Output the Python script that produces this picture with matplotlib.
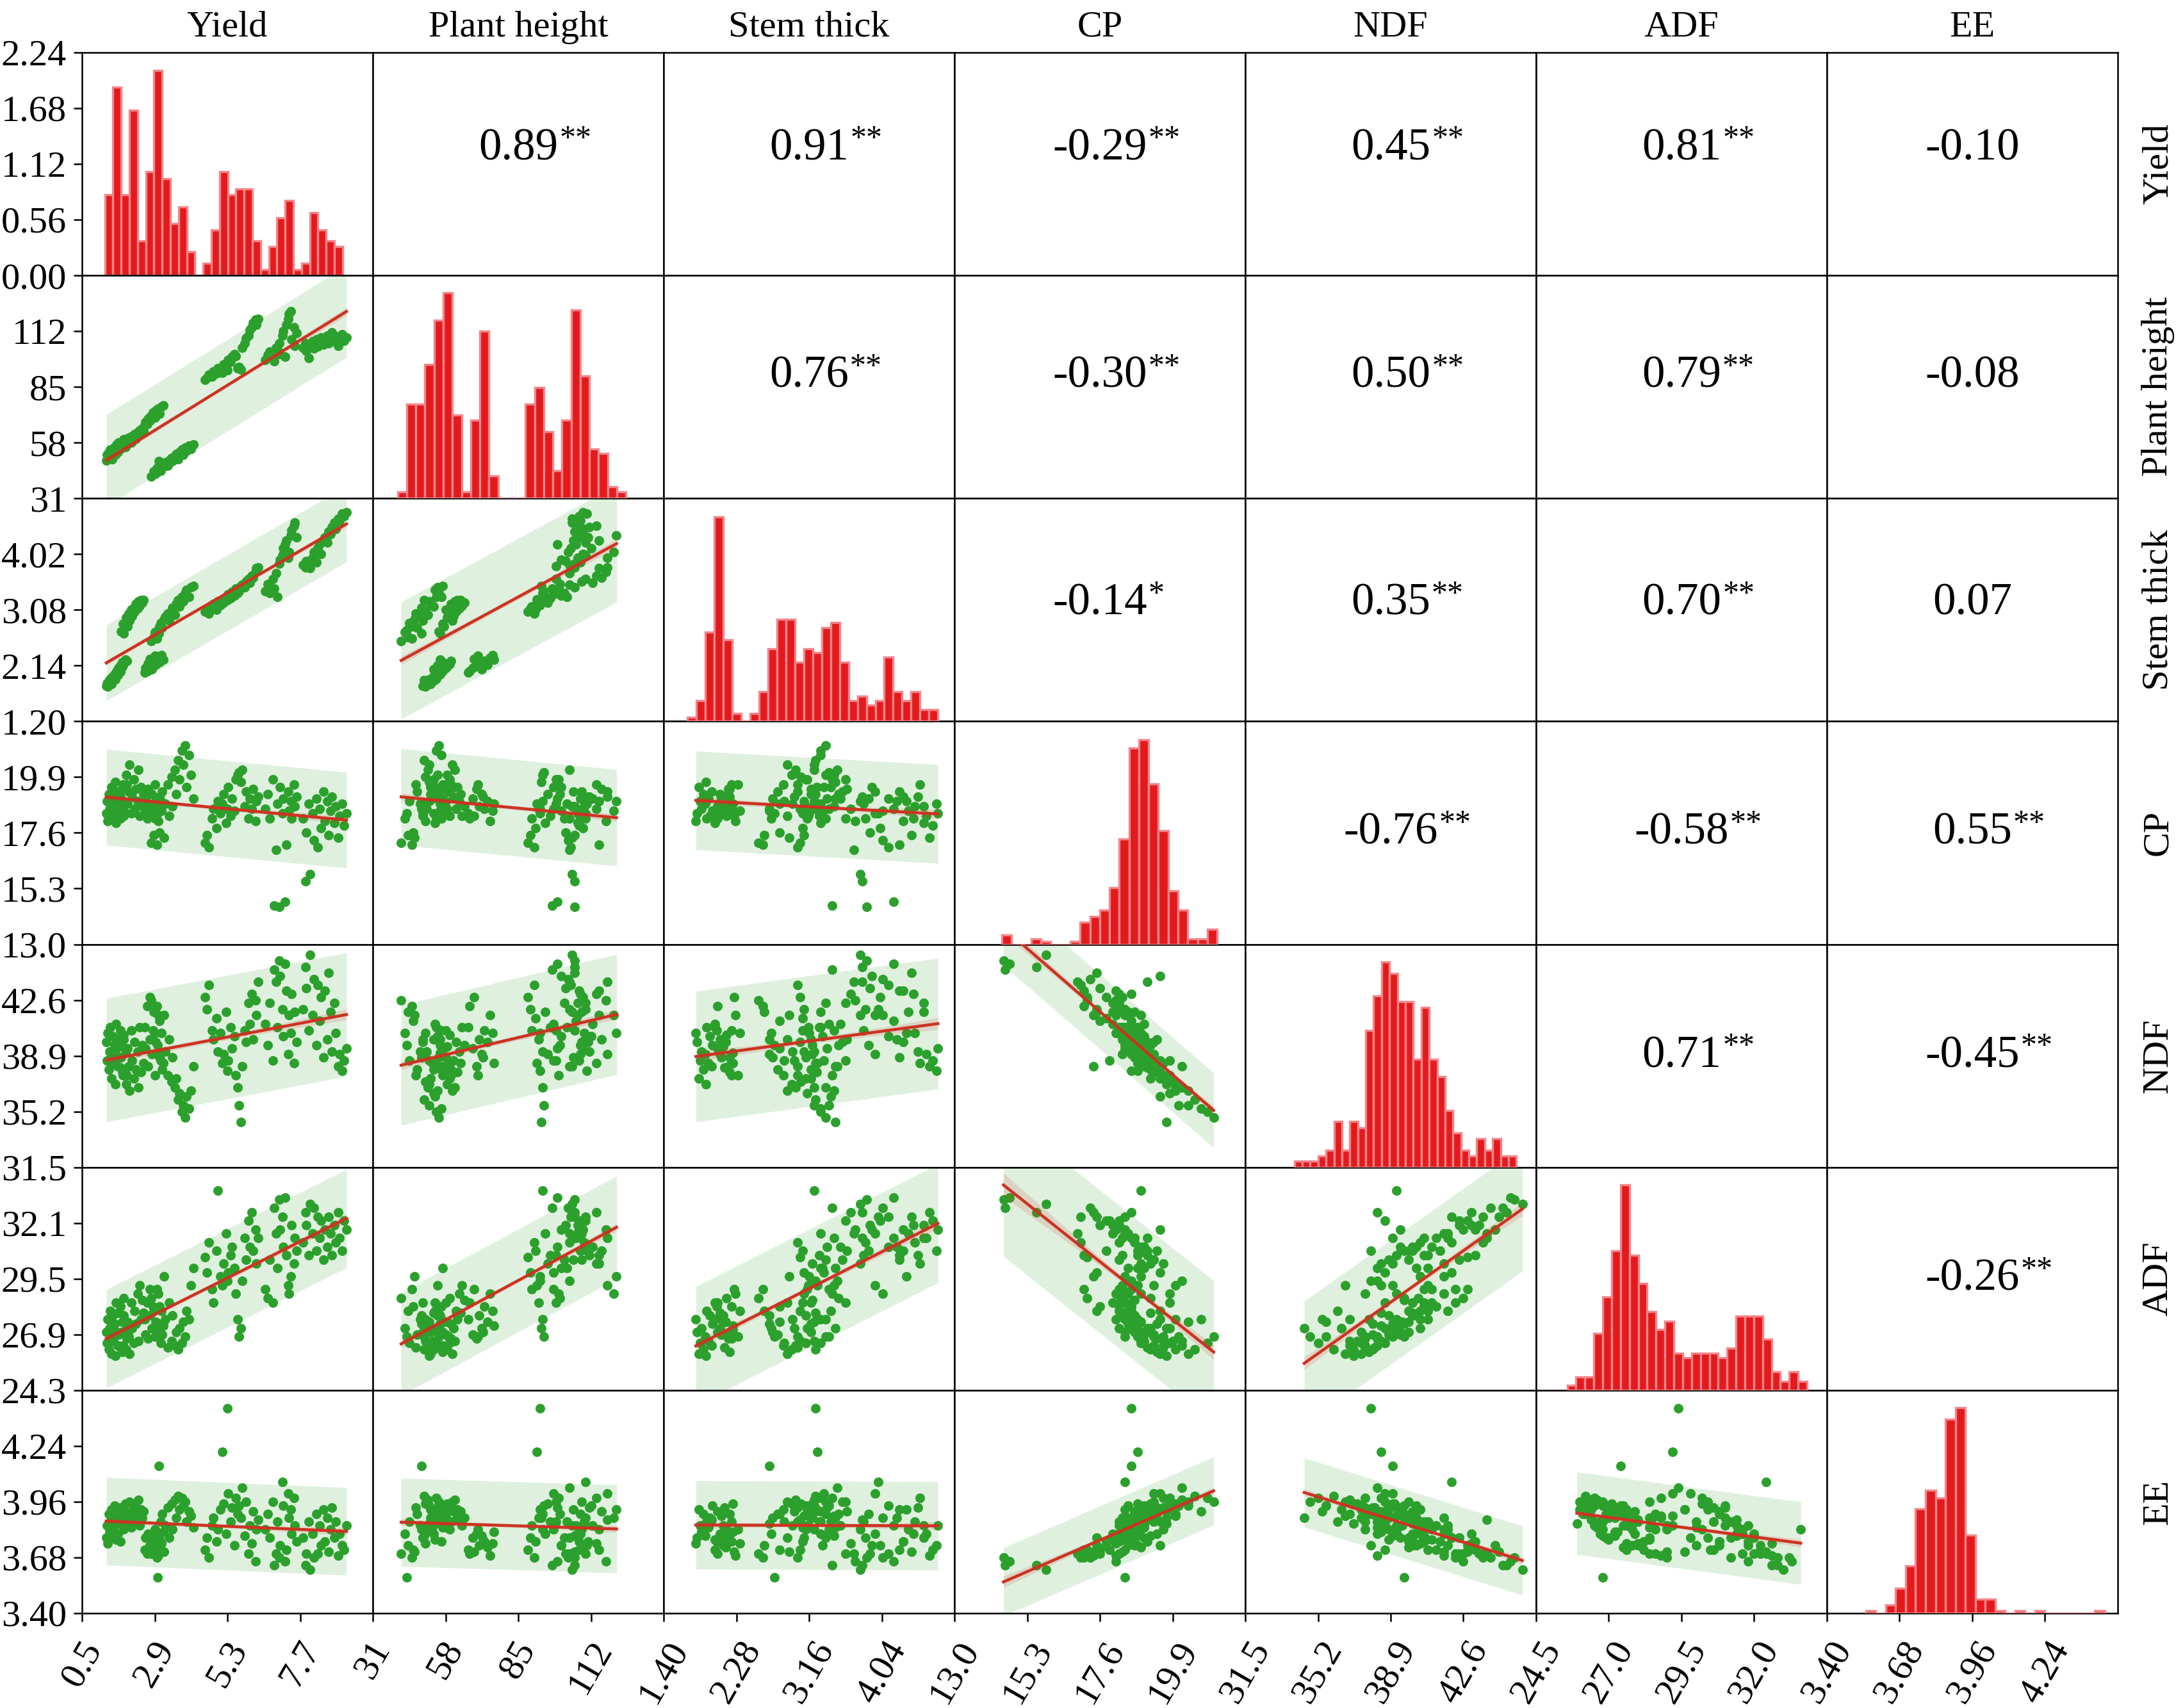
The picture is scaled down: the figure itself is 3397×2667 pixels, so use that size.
import numpy as np
import matplotlib
matplotlib.use("Agg")
import matplotlib.pyplot as plt
from matplotlib.ticker import FormatStrFormatter

plt.rcParams['font.family'] = ['Liberation Serif', 'DejaVu Serif']

names = ["Yield", "Plant height", "Stem thick", "CP", "NDF", "ADF", "EE"]

# samples, read group by group off the scatter panels
yield_vals = [
    1.30, 1.33, 1.34, 1.39, 1.41, 1.42, 1.47, 1.49, 1.52, 1.53, 1.57, 1.60, 1.61, 1.64, 1.68, 1.69, 1.71, 1.76, 1.77, 1.83, 1.84, 1.88, 1.94, 1.97,
    1.79, 1.86, 1.88, 1.96, 1.99, 2.05, 2.07, 2.13, 2.15, 2.21, 2.23, 2.27, 2.33, 2.35, 2.41, 2.44, 2.49, 2.53,
    2.57, 2.59, 2.65, 2.67, 2.73, 2.75, 2.81, 2.84, 2.91, 2.94, 3.01, 3.05, 3.13, 3.19,
    2.79, 2.87, 2.91, 2.97, 3.00, 3.03, 3.05, 3.11, 3.14, 3.21, 3.25, 3.33, 3.37, 3.45, 3.49, 3.57, 3.61, 3.67, 3.71, 3.79, 3.83, 3.91, 3.95, 4.03, 4.09, 4.17,
    4.55, 4.63, 4.69, 4.79, 4.84, 4.93, 4.99, 5.07, 5.13, 5.17, 5.25, 5.29, 5.33, 5.41, 5.45, 5.53, 5.57, 5.63, 5.67, 5.75, 5.79, 5.87, 5.91, 5.99, 6.03, 6.11, 6.15, 6.23, 6.26, 6.31,
    6.54, 6.63, 6.69, 6.79, 6.84, 6.91, 6.94, 7.01, 7.04, 7.11, 7.14, 7.21, 7.24, 7.31, 7.33, 7.39, 7.41, 7.49, 7.51, 7.59,
    7.79, 7.87, 7.91, 7.99, 8.03, 8.11, 8.15, 8.23, 8.27, 8.35, 8.39, 8.47, 8.51, 8.59, 8.63, 8.71, 8.75, 8.83, 8.87, 8.95, 8.99, 9.09, 9.15, 9.23,
]
height_vals = [
    49.5, 52.0, 50.5, 53.5, 51.0, 54.5, 52.5, 50.0, 55.0, 53.0, 56.0, 52.0, 54.0, 57.0, 55.5, 53.5, 58.0, 56.5, 55.0, 58.5, 57.0, 59.5, 56.0, 60.0,
    55.5, 57.0, 56.0, 58.5, 57.5, 59.0, 60.5, 58.0, 61.0, 59.5, 62.0, 60.0, 63.0, 61.5, 64.0, 62.5, 65.0, 63.5,
    66.5, 68.0, 67.0, 69.5, 70.5, 68.5, 71.5, 72.5, 70.0, 73.5, 74.5, 72.0, 75.5, 76.0,
    41.5, 44.0, 43.0, 45.5, 43.7, 49.0, 46.0, 44.5, 47.5, 46.5, 48.5, 47.0, 49.5, 50.5, 49.0, 51.5, 52.5, 50.0, 53.5, 54.5, 52.0, 55.5, 54.0, 56.5, 55.0, 57.0,
    88.5, 89.5, 91.0, 90.0, 92.5, 91.5, 94.0, 93.0, 92.0, 96.0, 95.0, 93.0, 98.0, 97.0, 99.5, 101.0, 100.0, 94.0, 94.5, 93.5, 104.0, 106.0, 108.5, 110.0, 112.5, 114.0, 116.0, 117.5, 115.0, 118.0,
    98.0, 100.5, 102.0, 99.0, 97.5, 104.0, 103.0, 106.0, 101.0, 110.0, 112.0, 99.5, 115.0, 118.0, 120.5, 121.5, 108.0, 114.0, 105.0, 111.0,
    104.0, 106.0, 102.5, 99.0, 105.0, 107.0, 103.5, 108.0, 104.5, 106.5, 109.0, 105.5, 107.5, 110.0, 106.0, 108.5, 111.5, 107.0, 109.5, 105.0, 108.0, 110.5, 107.5, 109.0,
]
stem_vals = [
    1.80, 1.84, 1.79, 1.88, 1.86, 1.92, 1.83, 1.90, 1.96, 1.94, 1.99, 1.91, 2.02, 2.05, 1.98, 2.08, 2.10, 2.04, 2.14, 2.12, 2.20, 2.16, 2.24, 2.22,
    2.72, 2.85, 2.68, 2.95, 2.80, 3.02, 2.90, 3.08, 2.98, 3.12, 3.05, 3.18, 3.10, 3.22, 3.15, 3.25, 3.20, 3.24,
    2.02, 2.10, 2.05, 2.18, 2.12, 2.25, 2.08, 2.22, 2.30, 2.15, 2.27, 2.20, 2.32, 2.24,
    2.55, 2.62, 2.70, 2.60, 2.74, 2.68, 2.80, 2.86, 2.78, 2.92, 2.96, 3.02, 2.90, 3.06, 3.12, 3.00, 3.18, 3.24, 3.14, 3.30, 3.22, 3.36, 3.42, 3.30, 3.46, 3.48,
    3.05, 3.10, 3.02, 3.14, 3.18, 3.08, 3.22, 3.16, 3.26, 3.20, 3.30, 3.24, 3.34, 3.28, 3.38, 3.32, 3.44, 3.36, 3.40, 3.48, 3.50, 3.46, 3.56, 3.60, 3.54, 3.66, 3.62, 3.72, 3.78, 3.80,
    3.40, 3.52, 3.36, 3.60, 3.44, 3.70, 3.30, 3.86, 3.92, 4.00, 4.12, 4.18, 4.25, 3.96, 4.05, 4.34, 4.42, 4.50, 4.55, 4.30,
    3.84, 3.80, 3.90, 3.82, 3.78, 3.96, 4.05, 3.88, 4.12, 4.18, 4.02, 4.25, 4.30, 4.22, 4.40, 4.36, 4.48, 4.55, 4.44, 4.62, 4.58, 4.70, 4.66, 4.72,
]
cp_vals = [
    18.4, 18.9, 18.1, 19.2, 18.6, 18.2, 19.5, 18.8, 18.3, 19.0, 18.5, 19.7, 18.0, 18.7, 19.3, 18.4, 18.9, 18.2, 19.1, 18.6, 19.4, 18.3, 18.8, 19.6,
    19.0, 19.6, 18.5, 20.0, 18.8, 19.3, 20.4, 18.4, 19.1, 19.8, 18.6, 19.4, 18.9, 20.2, 18.3, 19.5, 18.7, 19.2,
    18.4, 19.0, 18.2, 19.4, 18.7, 18.3, 19.2, 18.6, 19.6, 18.9, 18.1, 19.1, 18.5, 18.8,
    17.2, 17.5, 18.2, 17.1, 18.4, 18.6, 17.6, 18.9, 19.3, 17.4, 18.8, 19.6, 18.3, 19.9, 18.7, 20.2, 19.2, 20.6, 19.8, 21.0, 20.4, 21.2, 19.5, 20.8, 20.0, 19.0,
    17.2, 17.5, 17.0, 18.2, 18.6, 17.8, 18.9, 18.4, 18.8, 19.2, 18.0, 18.6, 19.5, 18.3, 19.0, 18.5, 19.8, 20.0, 20.1, 19.7, 20.2, 18.7, 19.3, 18.2, 19.0, 18.6, 19.4, 18.1, 18.9, 19.1,
    18.6, 19.2, 18.2, 19.8, 14.6, 16.9, 18.8, 14.55, 19.5, 18.4, 19.0, 14.75, 17.1, 19.3, 18.5, 18.9, 18.2, 19.6, 18.7, 19.1,
    18.2, 15.6, 17.6, 18.8, 15.9, 18.4, 17.3, 19.0, 17.0, 18.6, 17.8, 19.3, 18.1, 18.9, 17.5, 18.5, 19.1, 18.0, 18.7, 17.4, 18.3, 18.8, 17.9, 18.4,
]
ndf_vals = [
    39.8, 38.6, 40.4, 38.0, 39.2, 40.8, 37.4, 39.0, 40.2, 38.4, 39.6, 37.0, 41.0, 39.4, 38.2, 40.0, 38.8, 40.6, 38.1, 39.5, 37.8, 40.3, 39.1, 37.6,
    38.8, 37.6, 40.0, 37.0, 39.4, 38.2, 36.6, 40.6, 38.6, 37.4, 39.8, 38.0, 39.2, 36.8, 40.8, 37.8, 39.6, 38.4,
    40.8, 39.4, 42.2, 38.2, 40.0, 42.8, 39.0, 40.6, 37.6, 39.8, 41.6, 38.8, 40.4, 38.4,
    42.6, 41.8, 40.4, 42.2, 39.6, 39.0, 41.2, 38.6, 38.0, 41.6, 39.2, 37.6, 40.0, 37.2, 38.8, 36.8, 37.4, 36.0, 36.4, 35.2, 35.6, 34.8, 36.2, 35.4, 36.6, 38.2,
    42.8, 42.0, 43.6, 40.6, 40.0, 41.4, 39.2, 40.4, 38.4, 39.0, 41.8, 37.9, 38.6, 40.8, 39.4, 40.2, 37.6, 36.8, 35.6, 34.5, 38.2, 40.6, 39.8, 42.4, 41.0, 43.0, 40.0, 42.6, 41.6, 43.8,
    41.0, 39.6, 42.4, 38.6, 44.6, 43.8, 40.8, 45.2, 44.2, 42.0, 40.2, 45.0, 43.2, 39.0, 41.6, 40.4, 43.0, 38.4, 41.8, 39.8,
    42.0, 44.8, 43.4, 40.6, 45.6, 41.6, 44.0, 39.6, 43.6, 41.2, 42.8, 38.8, 43.2, 40.0, 44.4, 41.8, 39.2, 42.4, 40.4, 38.2, 39.0, 37.9, 38.6, 39.4,
]
adf_vals = [
    27.0, 26.5, 27.6, 26.2, 27.2, 28.0, 26.0, 26.8, 27.8, 26.6, 27.4, 25.9, 28.4, 27.0, 26.4, 27.9, 26.9, 28.2, 26.3, 27.5, 26.1, 28.6, 27.1, 26.7,
    27.0, 26.4, 27.8, 26.2, 27.5, 26.8, 26.0, 28.4, 27.2, 26.5, 28.0, 27.4, 28.8, 26.6, 29.2, 27.6, 28.5, 27.9,
    27.6, 26.9, 28.4, 26.7, 27.8, 29.0, 27.2, 28.2, 26.8, 27.5, 28.8, 27.0, 28.0, 27.3,
    28.6, 28.0, 27.2, 29.0, 26.8, 27.4, 28.2, 26.5, 26.9, 29.6, 27.6, 26.3, 28.4, 26.6, 27.8, 26.4, 27.0, 26.2, 27.2, 26.5, 27.5, 26.8, 28.0, 27.6, 29.2, 30.0,
    30.5, 29.8, 31.2, 29.0, 28.4, 30.8, 33.6, 29.6, 29.2, 30.2, 31.6, 29.4, 29.8, 30.6, 31.0, 30.0, 28.8, 27.6, 26.8, 27.2, 29.4, 31.4, 30.4, 32.2, 31.0, 32.6, 30.8, 31.8, 30.2, 31.4,
    29.0, 28.6, 30.4, 28.4, 32.8, 31.6, 30.0, 33.2, 31.8, 32.4, 31.0, 33.3, 30.6, 29.2, 28.8, 29.6, 32.0, 30.2, 31.4, 30.8,
    31.2, 32.6, 32.0, 30.6, 33.0, 31.6, 32.8, 30.8, 32.4, 31.4, 32.2, 30.4, 31.8, 31.0, 32.4, 31.6, 30.6, 32.0, 31.2, 32.6, 31.4, 30.8, 32.2, 31.8,
]
ee_vals = [
    3.78, 3.84, 3.75, 3.90, 3.81, 3.86, 3.92, 3.79, 3.88, 3.83, 3.94, 3.85, 3.77, 3.91, 3.87, 3.80, 3.89, 3.76, 3.93, 3.84, 3.90, 3.82, 3.95, 3.86,
    3.88, 3.92, 3.85, 3.95, 3.90, 3.86, 3.96, 3.83, 3.91, 3.94, 3.87, 3.93, 3.89, 3.97, 3.84, 3.92, 3.88, 3.91,
    3.72, 3.78, 3.70, 3.80, 3.74, 3.71, 3.79, 3.76, 3.82, 3.73, 3.69, 3.77, 3.75, 3.81,
    3.70, 3.74, 3.80, 3.68, 3.58, 4.14, 3.72, 3.86, 3.90, 3.71, 3.84, 3.93, 3.78, 3.95, 3.82, 3.97, 3.88, 3.99, 3.92, 3.98, 3.94, 3.96, 3.86, 3.91, 3.89, 3.83,
    3.72, 3.78, 3.68, 3.84, 3.88, 3.76, 3.82, 3.92, 4.21, 3.95, 3.80, 4.43, 4.00, 3.86, 3.93, 3.74, 3.98, 3.90, 3.94, 3.88, 4.03, 3.79, 3.96, 3.70, 3.84, 3.75, 3.91, 3.66, 3.82, 3.87,
    3.82, 3.90, 3.78, 3.96, 3.64, 3.70, 3.86, 3.68, 3.74, 4.06, 3.94, 3.66, 3.72, 4.00, 3.88, 3.92, 3.80, 3.98, 3.84, 3.76,
    3.78, 3.64, 3.70, 3.86, 3.62, 3.80, 3.68, 3.90, 3.70, 3.84, 3.74, 3.92, 3.76, 3.88, 3.71, 3.82, 3.93, 3.78, 3.86, 3.69, 3.80, 3.74, 3.72, 3.84,
]

# diagonal histograms: bar heights
# (Yield in its own axis units, the others in % of the cell height)
yield_hist = [0.81, 1.89, 0.81, 1.66, 0.35, 1.04, 2.06, 0.97, 0.52, 0.69, 0.24, 0.0, 0.12, 0.46, 1.04,
              0.81, 0.87, 0.87, 0.35, 0.06, 0.29, 0.58, 0.75, 0.06, 0.12, 0.63, 0.46, 0.35, 0.29]
height_hist = [2.8, 42.4, 42.4, 60.0, 79.8, 92.2, 37.4, 2.8, 35.0, 74.9, 10.1, 0, 0, 0,
               42.4, 49.7, 30.0, 12.5, 35.0, 84.6, 54.8, 22.3, 20.1, 5.1, 2.8]
stem_hist = [1.9, 9.3, 40.0, 91.8, 36.5, 3.5, 0, 3.5, 13.2, 32.6, 45.8, 45.8, 26.4, 32.6,
             30.7, 41.9, 44.3, 26.4, 9.3, 11.3, 7.4, 9.3, 28.7, 13.2, 9.3, 13.2, 5.4, 5.4]
cp_hist = [4.1, 0, 0, 2.5, 1.4, 0, 0, 1.4, 9.9, 12.6, 15.3, 25.4, 47.2, 88.0, 91.8, 72.0,
           51.1, 23.9, 15.3, 2.5, 2.5, 6.8]
ndf_hist = [2.8, 2.8, 2.8, 5.0, 7.8, 20.6, 7.8, 20.6, 17.8, 61.3, 76.8, 92.0, 86.8, 74.2,
            74.2, 48.5, 71.8, 48.5, 40.8, 25.4, 15.5, 7.8, 5.0, 12.8, 7.8, 12.8, 5.0, 5.0]
adf_hist = [2.2, 5.9, 5.9, 25.4, 41.9, 62.7, 92.1, 60.5, 48.0, 35.4, 27.1, 31.0, 16.5, 14.5,
            16.5, 16.5, 16.5, 14.5, 18.8, 33.3, 33.3, 33.3, 22.9, 8.2, 4.0, 8.2, 4.0]
ee_hist = [1.2, 0, 3.7, 11.2, 21.3, 46.7, 55.2, 51.7, 87.1, 92.2, 35.1, 6.2, 6.2, 1.2, 0,
           1.2, 0, 1.2, 0, 0, 0, 0, 0, 1.2]
hist_lo = [1.25, 40.2, 1.69, 14.50, 34.0, 25.57, 3.55]
hist_hi = [9.10, 125.0, 4.72, 21.31, 45.3, 33.82, 4.47]

# axis scales: first tick and tick step (each cell spans four steps)
x_start = [0.5, 31, 1.40, 13.0, 31.5, 24.5, 3.40]
x_step = [2.4, 27, 0.88, 2.3, 3.7, 2.5, 0.28]
x_fmt = ['%.1f', '%.0f', '%.2f', '%.1f', '%.1f', '%.1f', '%.2f']
y_start = [0.0, 31, 1.20, 13.0, 31.5, 24.3, 3.40]
y_step = [0.56, 27, 0.94, 2.3, 3.7, 2.6, 0.28]
y_fmt = ['%.2f', '%.0f', '%.2f', '%.1f', '%.1f', '%.1f', '%.2f']

# upper triangle, row by row
corr_r = ["0.89", "0.91", "-0.29", "0.45", "0.81", "-0.10",
          "0.76", "-0.30", "0.50", "0.79", "-0.08",
          "-0.14", "0.35", "0.70", "0.07",
          "-0.76", "-0.58", "0.55",
          "0.71", "-0.45",
          "-0.26"]
corr_sig = ["**", "**", "**", "**", "**", "",
            "**", "**", "**", "**", "",
            "*", "**", "**", "",
            "**", "**", "**",
            "**", "**",
            "**"]

data = [np.array(v, dtype=float) for v in
        (yield_vals, height_vals, stem_vals, cp_vals, ndf_vals, adf_vals, ee_vals)]
hists = [yield_hist, height_hist, stem_hist, cp_hist, ndf_hist, adf_hist, ee_hist]

green = '#2ca02c'
line_red = '#cc3322'
bar_red = '#e31a1c'
bar_edge = '#f2858a'
n_var = len(names)

fig, axes = plt.subplots(n_var, n_var, figsize=(3397 / 300, 2667 / 300), dpi=300)
fig.subplots_adjust(left=0.0377, right=0.9732, top=0.9693, bottom=0.0555, wspace=0, hspace=0)


def draw_reg(ax, x, y):
    slope, icpt = np.polyfit(x, y, 1)
    n = len(x)
    resid = y - (icpt + slope * x)
    s = np.sqrt(np.sum(resid ** 2) / (n - 2))
    xs = np.linspace(x.min(), x.max(), 60)
    fit = icpt + slope * xs
    ax.fill_between(xs, fit - 1.96 * s, fit + 1.96 * s, color=green, alpha=0.15, lw=0, zorder=1)
    ax.scatter(x, y, s=13, color=green, lw=0, zorder=2)
    se = s * np.sqrt(1.0 / n + (xs - x.mean()) ** 2 / np.sum((x - x.mean()) ** 2))
    ax.fill_between(xs, fit - 1.0 * se, fit + 1.0 * se, color=line_red, alpha=0.15, lw=0, zorder=3)
    ax.plot(xs, fit, color=line_red, lw=1.1, zorder=4)


k = 0
for i in range(n_var):
    for j in range(n_var):
        ax = axes[i, j]
        ax.set_xlim(x_start[j], x_start[j] + 4 * x_step[j])
        ax.set_ylim(y_start[i], y_start[i] + 4 * y_step[i])
        for sp in ax.spines.values():
            sp.set_linewidth(0.6)
        ax.tick_params(length=0, labelleft=False, labelbottom=False)

        if i == j:
            edges = np.linspace(hist_lo[i], hist_hi[i], len(hists[i]) + 1)
            if i == 0:
                hax = ax
            else:
                hax = ax.twinx()
                hax.set_ylim(0, 100)
                hax.set_axis_off()
            hax.bar(edges[:-1], hists[i], width=np.diff(edges), align='edge',
                    color=bar_red, edgecolor=bar_edge, linewidth=0.8, zorder=2)
        elif i > j:
            draw_reg(ax, data[j], data[i])
        else:
            t = ax.text(0.5, [0.57, 0.55, 0.53, 0.50, 0.50, 0.50][i], corr_r[k],
                        transform=ax.transAxes, ha='center', va='center', fontsize=17)
            if corr_sig[k]:
                ax.annotate(corr_sig[k], xy=(1, 1), xycoords=t, xytext=(0.5, 1.0),
                            textcoords='offset points', ha='left', va='top', fontsize=12)
            k += 1

        if j == 0:
            nt = 5 if i == 0 else 4
            ax.set_yticks([y_start[i] + m * y_step[i] for m in range(nt)])
            ax.yaxis.set_major_formatter(FormatStrFormatter(y_fmt[i]))
            ax.tick_params(axis='y', length=3.2, width=0.6, direction='out',
                           labelleft=True, labelsize=14, pad=2.6)
        if i == n_var - 1:
            ax.set_xticks([x_start[j] + m * x_step[j] for m in range(4)])
            ax.xaxis.set_major_formatter(FormatStrFormatter(x_fmt[j]))
            ax.tick_params(axis='x', length=3.2, width=0.6, direction='out',
                           labelbottom=True, labelsize=14, pad=5, labelrotation=60)
        if i == 0:
            ax.set_title(names[j], fontsize=14, pad=6)
        if j == n_var - 1:
            ax.annotate(names[i], xy=(1, 0.5), xycoords='axes fraction', xytext=(9, 0),
                        textcoords='offset points', rotation=90, ha='left', va='center',
                        fontsize=14)

fig.savefig('out.png', dpi=300)
